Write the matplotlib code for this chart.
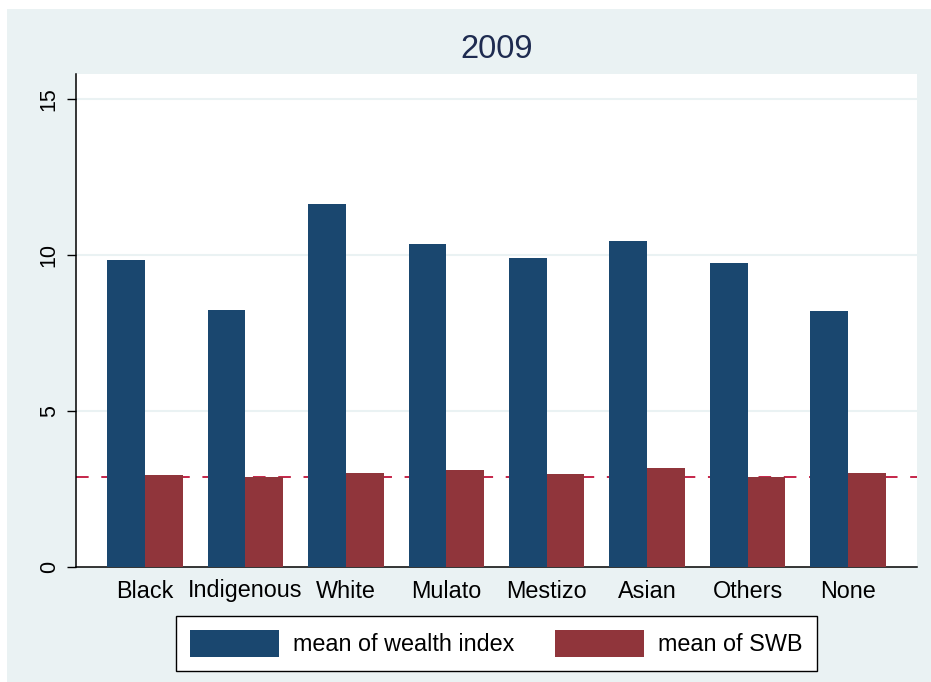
import numpy as np
import matplotlib
matplotlib.use('Agg')
import matplotlib.pyplot as plt
from matplotlib.patches import Rectangle

plt.rcParams['font.family'] = ['Liberation Sans', 'DejaVu Sans']

# data
groups = ['Black', 'Indigenous', 'White', 'Mulato', 'Mestizo', 'Asian', 'Others', 'None']
wealth = [9.83, 8.25, 11.63, 10.37, 9.90, 10.46, 9.75, 8.22]
swb = [2.95, 2.89, 3.02, 3.11, 2.97, 3.17, 2.90, 3.01]
swb_ref = 2.88
yticks = [0, 5, 10, 15]

BLUE = '#1a476f'
RED = '#90353b'
BG = '#eaf2f3'
FS = 16.8

fig = plt.figure(figsize=(9.31, 6.82), dpi=100)
fig.patch.set_facecolor('white')
# light outer panel
fig.patches.append(Rectangle((7 / 931, 0), 1, 1 - 9 / 682, transform=fig.transFigure,
                             facecolor=BG, edgecolor='none', zorder=-5))

ax = fig.add_axes([75.7 / 931, (682 - 567) / 682, (917.3 - 75.7) / 931, (567 - 74) / 682])
ax.set_facecolor('white')

x = np.arange(len(groups))
w = 0.375
ax.bar(x - w / 2, wealth, width=w, color=BLUE, label='mean of wealth index', zorder=3)
ax.bar(x + w / 2, swb, width=w, color=RED, label='mean of SWB', zorder=3)
ax.axhline(swb_ref, color='#c0143a', lw=1.3, dashes=(7, 7), zorder=2)

for y in yticks[1:]:
    ax.axhline(y, color=BG, lw=1.5, zorder=1)

ax.set_xlim(-0.69, len(groups) - 1 + 0.69)
ax.set_ylim(0, 15.81)
ax.set_xticks(x)
ax.set_xticklabels(groups, fontsize=FS)
ax.set_yticks(yticks)
ax.set_yticklabels([str(t) for t in yticks], fontsize=15.5, rotation=90, va='center')
ax.tick_params(axis='x', length=0, pad=9)
ax.tick_params(axis='y', length=6.5, width=1, pad=5)

for s in ['top', 'right']:
    ax.spines[s].set_visible(False)
for s in ['left', 'bottom']:
    ax.spines[s].set_linewidth(1.1)
    ax.spines[s].set_color('black')

fig.text(496.5 / 931, 1 - 50 / 682, '2009', ha='center', va='center',
         fontsize=23.5, color='#1e2b50')

leg = fig.legend(loc='center', bbox_to_anchor=(496.5 / 931, 1 - 643.5 / 682), ncol=2,
                 fontsize=FS, frameon=True, fancybox=False, edgecolor='black',
                 handlelength=3.82, handleheight=1.35, handletextpad=0.6,
                 columnspacing=1.72, borderpad=0.62)
leg.get_frame().set_linewidth(1.0)
leg.get_frame().set_facecolor('white')
leg.get_frame().set_alpha(1)

fig.savefig('out.png', dpi=100, facecolor=fig.get_facecolor())
